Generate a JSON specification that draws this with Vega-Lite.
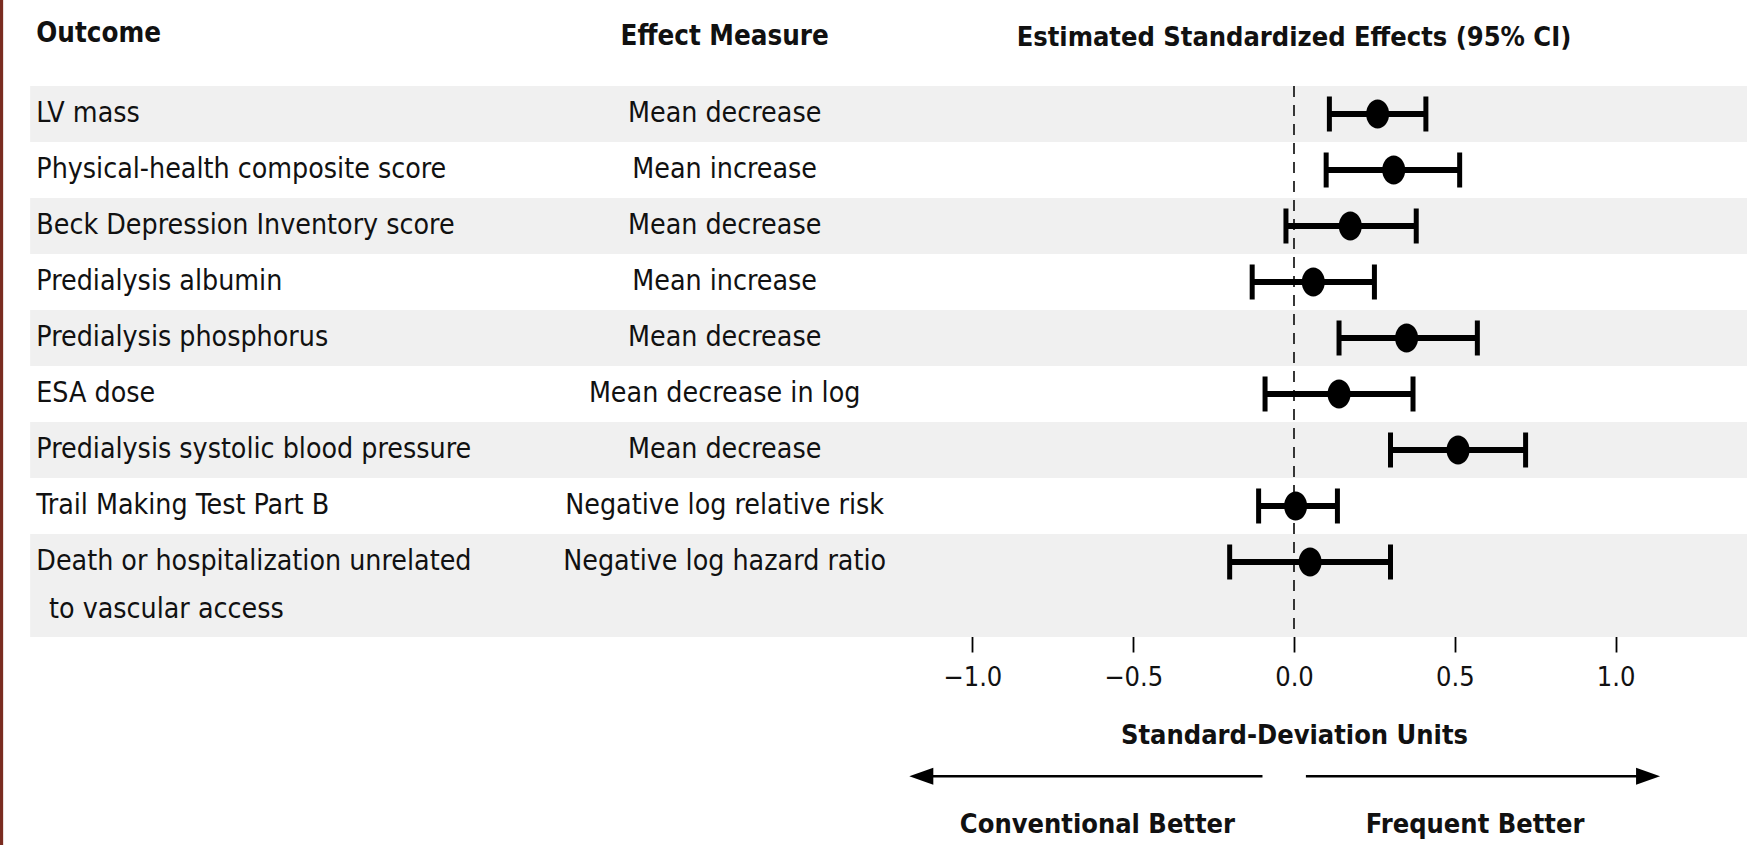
{
  "$schema": "https://vega.github.io/schema/vega-lite/v6.json",
  "width": 772,
  "height": 547,
  "autosize": {"type": "none"},
  "padding": {"left": 908, "top": 86, "right": 67, "bottom": 212},
  "background": "white",
  "config": {
    "view": {"stroke": null},
    "font": "'Liberation Sans Narrow', 'DejaVu Sans Condensed', sans-serif",
    "text": {"color": "#111111"}
  },
  "datasets": {
    "effects": [
      {"outcome": "LV mass", "measure": "Mean decrease", "estimate": 0.26, "lower": 0.11, "upper": 0.41},
      {"outcome": "Physical-health composite score", "measure": "Mean increase", "estimate": 0.31, "lower": 0.10, "upper": 0.515},
      {"outcome": "Beck Depression Inventory score", "measure": "Mean decrease", "estimate": 0.175, "lower": -0.025, "upper": 0.38},
      {"outcome": "Predialysis albumin", "measure": "Mean increase", "estimate": 0.06, "lower": -0.13, "upper": 0.25},
      {"outcome": "Predialysis phosphorus", "measure": "Mean decrease", "estimate": 0.35, "lower": 0.14, "upper": 0.57},
      {"outcome": "ESA dose", "measure": "Mean decrease in log", "estimate": 0.14, "lower": -0.09, "upper": 0.37},
      {"outcome": "Predialysis systolic blood pressure", "measure": "Mean decrease", "estimate": 0.51, "lower": 0.30, "upper": 0.72},
      {"outcome": "Trail Making Test Part B", "measure": "Negative log relative risk", "estimate": 0.005, "lower": -0.11, "upper": 0.135},
      {"outcome": "Death or hospitalization unrelated\n\u200b\u2002to vascular access", "measure": "Negative log hazard ratio", "estimate": 0.05, "lower": -0.20, "upper": 0.30}
    ]
  },
  "data": {"name": "effects"},
  "transform": [{"window": [{"op": "row_number", "as": "row"}]}],
  "layer": [
    {
      "data": {"values": [{}]},
      "mark": {"type": "rect", "color": "#7a2c20"},
      "encoding": {
        "x": {"datum": -4.06, "type": "quantitative", "scale": {"domain": [-1.2, 1.2], "nice": false, "zero": false}},
        "x2": {"datum": -4.013},
        "y": {"datum": -1.2, "type": "quantitative", "scale": {"domain": [0.5, 10.268], "reverse": true, "nice": false, "zero": false}, "axis": null},
        "y2": {"datum": 15.2}
      }
    },
    {
      "transform": [{"filter": "datum.row % 2 == 1 && datum.row < 9"}],
      "mark": {"type": "rule", "color": "#f0f0f0", "strokeWidth": 56},
      "encoding": {
        "x": {"datum": -3.929, "type": "quantitative"},
        "x2": {"datum": 1.42},
        "y": {"field": "row", "type": "quantitative", "axis": null}
      }
    },
    {
      "transform": [{"filter": "datum.row == 9"}],
      "mark": {"type": "rect", "color": "#f0f0f0"},
      "encoding": {
        "x": {"datum": -3.929, "type": "quantitative"},
        "x2": {"datum": 1.42},
        "y": {"datum": 8.5, "type": "quantitative", "axis": null},
        "y2": {"datum": 10.34}
      }
    },
    {
      "data": {"values": [{}]},
      "mark": {"type": "rule", "color": "#222222", "strokeWidth": 1.8, "strokeDash": [11, 8]},
      "encoding": {"x": {"datum": 0, "type": "quantitative"}}
    },
    {
      "mark": {"type": "rule", "color": "black", "strokeWidth": 6},
      "encoding": {
        "x": {"field": "lower", "type": "quantitative"},
        "x2": {"field": "upper"},
        "y": {"field": "row", "type": "quantitative", "axis": null}
      }
    },
    {
      "mark": {"type": "tick", "orient": "vertical", "color": "black", "size": 35, "thickness": 5, "opacity": 1},
      "encoding": {
        "x": {"field": "lower", "type": "quantitative"},
        "y": {"field": "row", "type": "quantitative", "axis": null}
      }
    },
    {
      "mark": {"type": "tick", "orient": "vertical", "color": "black", "size": 35, "thickness": 5, "opacity": 1},
      "encoding": {
        "x": {"field": "upper", "type": "quantitative"},
        "y": {"field": "row", "type": "quantitative", "axis": null}
      }
    },
    {
      "mark": {"type": "point", "filled": true, "color": "black", "opacity": 1, "size": 529, "shape": "M-1,0A1,1.26 0 1,0 1,0A1,1.26 0 1,0 -1,0Z"},
      "encoding": {
        "x": {
          "field": "estimate", "type": "quantitative",
          "axis": {
            "values": [-1, -0.5, 0, 0.5, 1],
            "format": ".1f",
            "grid": false,
            "title": "Standard-Deviation Units",
            "domainColor": "black",
            "domainWidth": 2,
            "tickColor": "black",
            "tickWidth": 1.8,
            "tickSize": 19,
            "labelFontSize": 27,
            "labelColor": "#111111",
            "labelPadding": 12,
            "titleFontSize": 27,
            "titleFontWeight": "bold",
            "titleColor": "#111111",
            "titlePadding": 32
          }
        },
        "y": {"field": "row", "type": "quantitative", "axis": null}
      }
    },
    {
      "mark": {"type": "text", "align": "left", "baseline": "middle", "fontSize": 28.3, "lineBreak": "\n", "lineHeight": 48},
      "encoding": {
        "x": {"datum": -3.91, "type": "quantitative"},
        "y": {"field": "row", "type": "quantitative", "axis": null},
        "text": {"field": "outcome"}
      }
    },
    {
      "mark": {"type": "text", "align": "center", "baseline": "middle", "fontSize": 28.3},
      "encoding": {
        "x": {"datum": -1.77, "type": "quantitative"},
        "y": {"field": "row", "type": "quantitative", "axis": null},
        "text": {"field": "measure"}
      }
    },
    {
      "data": {"values": [{"label": "Outcome"}]},
      "mark": {"type": "text", "align": "left", "baseline": "middle", "fontSize": 27.5, "fontWeight": "bold"},
      "encoding": {
        "x": {"datum": -3.91, "type": "quantitative"},
        "y": {"datum": -0.42, "type": "quantitative", "axis": null},
        "text": {"field": "label"}
      }
    },
    {
      "data": {"values": [{"label": "Effect Measure"}]},
      "mark": {"type": "text", "align": "center", "baseline": "middle", "fontSize": 27.5, "fontWeight": "bold"},
      "encoding": {
        "x": {"datum": -1.77, "type": "quantitative"},
        "y": {"datum": -0.375, "type": "quantitative", "axis": null},
        "text": {"field": "label"}
      }
    },
    {
      "data": {"values": [{"label": "Estimated Standardized Effects (95% CI)"}]},
      "mark": {"type": "text", "align": "center", "baseline": "middle", "fontSize": 27, "fontWeight": "bold"},
      "encoding": {
        "x": {"datum": 0, "type": "quantitative"},
        "y": {"datum": -0.35, "type": "quantitative", "axis": null},
        "text": {"field": "label"}
      }
    },
    {
      "data": {"values": [{}]},
      "mark": {"type": "rule", "color": "black", "strokeWidth": 2.5},
      "encoding": {
        "x": {"datum": -1.15, "type": "quantitative"},
        "x2": {"datum": -0.098},
        "y": {"datum": 12.826, "type": "quantitative", "axis": null}
      }
    },
    {
      "data": {"values": [{}]},
      "mark": {"type": "rule", "color": "black", "strokeWidth": 2.5},
      "encoding": {
        "x": {"datum": 0.037, "type": "quantitative"},
        "x2": {"datum": 1.10},
        "y": {"datum": 12.826, "type": "quantitative", "axis": null}
      }
    },
    {
      "data": {"values": [{}]},
      "mark": {"type": "point", "filled": true, "color": "black", "opacity": 1, "size": 576, "shape": "M0,0L2,-0.7L2,0.7Z"},
      "encoding": {
        "x": {"datum": -1.196, "type": "quantitative"},
        "y": {"datum": 12.826, "type": "quantitative", "axis": null}
      }
    },
    {
      "data": {"values": [{}]},
      "mark": {"type": "point", "filled": true, "color": "black", "opacity": 1, "size": 576, "shape": "M0,0L-2,-0.7L-2,0.7Z"},
      "encoding": {
        "x": {"datum": 1.138, "type": "quantitative"},
        "y": {"datum": 12.826, "type": "quantitative", "axis": null}
      }
    },
    {
      "data": {"values": [{"label": "Conventional Better"}]},
      "mark": {"type": "text", "align": "center", "baseline": "middle", "fontSize": 27, "fontWeight": "bold"},
      "encoding": {
        "x": {"datum": -0.611, "type": "quantitative"},
        "y": {"datum": 13.69, "type": "quantitative", "axis": null},
        "text": {"field": "label"}
      }
    },
    {
      "data": {"values": [{"label": "Frequent Better"}]},
      "mark": {"type": "text", "align": "center", "baseline": "middle", "fontSize": 27, "fontWeight": "bold"},
      "encoding": {
        "x": {"datum": 0.563, "type": "quantitative"},
        "y": {"datum": 13.69, "type": "quantitative", "axis": null},
        "text": {"field": "label"}
      }
    }
  ]
}
